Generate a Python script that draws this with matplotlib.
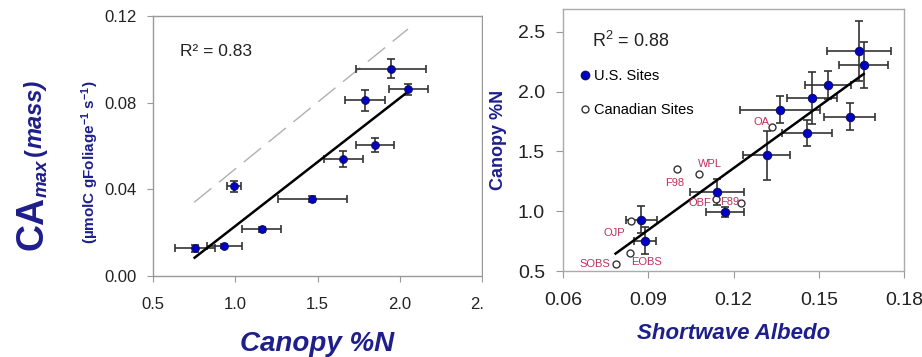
import numpy as np
import matplotlib
matplotlib.use("Agg")
import matplotlib.pyplot as plt
from matplotlib.lines import Line2D
from matplotlib.patches import Rectangle

plt.rcParams['font.family'] = ['Liberation Sans', 'DejaVu Sans']
plt.rcParams['mathtext.fontset'] = 'custom'
plt.rcParams['mathtext.rm'] = 'Liberation Sans:bold'
plt.rcParams['mathtext.it'] = 'Liberation Sans:bold:italic'
plt.rcParams['mathtext.sf'] = 'Liberation Sans'

NAVY = '#1e1e8c'
PINK = '#c0305c'
DOT = '#0000c8'
BAR = '#333333'

# --- canopy N vs CAmax (mass) ---
n_pct = [0.753, 0.933, 1.161, 0.993, 1.468, 1.658, 1.848, 1.790, 1.947, 2.052]
n_err = [0.121, 0.105, 0.120, 0.042, 0.210, 0.120, 0.115, 0.120, 0.210, 0.118]
ca_max = [0.0128, 0.0138, 0.0215, 0.0415, 0.0355, 0.0540, 0.0603, 0.0810, 0.0957, 0.0862]
ca_err = [0.0015, 0.0010, 0.0010, 0.0025, 0.0012, 0.0035, 0.0032, 0.0050, 0.0045, 0.0025]
dash_x = [0.75, 2.05]
dash_y = [0.034, 0.114]
r2_left = 0.83

# --- albedo vs canopy N ---
us_alb = [0.1642, 0.1658, 0.1533, 0.1475, 0.1363, 0.1609, 0.1459, 0.1317, 0.1143, 0.1171, 0.0875, 0.0889]
us_alb_err = [0.0114, 0.0086, 0.0082, 0.0088, 0.0140, 0.0089, 0.0088, 0.0082, 0.0095, 0.0067, 0.0055, 0.0040]
us_n = [2.338, 2.223, 2.053, 1.944, 1.849, 1.790, 1.654, 1.466, 1.162, 0.994, 0.930, 0.754]
us_n_err = [0.25, 0.195, 0.115, 0.217, 0.112, 0.112, 0.110, 0.207, 0.110, 0.040, 0.115, 0.115]

ca_sites = ['SOBS', 'EOBS', 'OJP', 'OBF', 'F89', 'WPL', 'F98', 'OA']
ca_alb = [0.0785, 0.0837, 0.0840, 0.1138, 0.1225, 0.1078, 0.1000, 0.1336]
ca_n = [0.556, 0.654, 0.919, 1.106, 1.070, 1.310, 1.352, 1.701]
r2_right = 0.88

# label offsets (points) from each Canadian site marker
lbl_off = {'SOBS': (-15, 0), 'EOBS': (11.5, -6.5), 'OJP': (-12, -9), 'OBF': (-11.3, -2.9),
           'F89': (-7.9, 0.7), 'WPL': (7.7, 7.2), 'F98': (-1.4, -10.3), 'OA': (-7.7, 3.6)}

W, H = 922, 357
fig = plt.figure(figsize=(W / 100, H / 100), dpi=100)

def box(l, t, r, b):
    return [l / W, 1 - b / H, (r - l) / W, (b - t) / H]

# left panel
ax1 = fig.add_axes(box(153, 16, 482, 276), zorder=0)
ax1.errorbar(n_pct, ca_max, xerr=n_err, yerr=ca_err, fmt='none', ecolor=BAR,
             elinewidth=1.2, capsize=3, capthick=1.2, zorder=2)
ax1.plot(n_pct, ca_max, 'o', ms=5.5, mfc=DOT, mec='#101060', mew=0.8, zorder=3)
k, b0 = np.polyfit(n_pct, ca_max, 1)
fx = np.array([min(n_pct), max(n_pct)])
ax1.plot(fx, k * fx + b0, color='black', lw=1.8, zorder=2)
dl, = ax1.plot(dash_x, dash_y, color='#b0b0b0', lw=1.0, zorder=1)
dl.set_dashes((16, 7))
ax1.text(0.666, 0.1035, f'R² = {r2_left:.2f}', fontsize=12.5, color='#222222', va='center')
ax1.set_xlim(0.5, 2.5)
ax1.set_ylim(0, 0.12)
ax1.set_xticks([0.5, 1.0, 1.5, 2.0, 2.5])
ax1.set_yticks([0, 0.04, 0.08, 0.12])
ax1.xaxis.set_major_formatter(matplotlib.ticker.FormatStrFormatter('%.1f'))
ax1.yaxis.set_major_formatter(matplotlib.ticker.FormatStrFormatter('%.2f'))
ax1.tick_params(labelsize=12, colors='#222222', length=4, width=0.8, pad=8)
ax1.tick_params(axis='x', pad=11)
ax1.tick_params(color='#999999')
for s in ax1.spines.values():
    s.set_color('#999999')
    s.set_linewidth(1.0)
ax1.set_xlabel('Canopy %N', fontsize=20, fontweight='bold', fontstyle='italic',
               color=NAVY, labelpad=14)

# y label built from pieces along a shared baseline
fig.text(42 / W, 1 - 250 / H, 'CA', rotation=90, rotation_mode='anchor', ha='left',
         va='baseline', fontsize=27, fontweight='bold', color=NAVY)
fig.text(47 / W, 1 - 197 / H, 'max', rotation=90, rotation_mode='anchor', ha='left',
         va='baseline', fontsize=13.5, fontweight='bold', fontstyle='italic', color=NAVY)
fig.text(42 / W, 1 - 156 / H, '(', rotation=90, rotation_mode='anchor', ha='left',
         va='baseline', fontsize=17, fontweight='bold', color=NAVY)
fig.text(42 / W, 1 - 148 / H, 'mass)', rotation=90, rotation_mode='anchor', ha='left',
         va='baseline', fontsize=17, fontweight='bold', fontstyle='italic', color=NAVY)
fig.text(90 / W, 1 - 162 / H, r'(µmolC gFoliage$^{-1}$ s$^{-1}$)', rotation=90,
         ha='center', va='center', fontsize=11, fontweight='bold', color=NAVY)

# the right panel sits over the end of the left one
fig.patches.append(Rectangle((483 / W, 0), 1 - 483 / W, 1, transform=fig.transFigure,
                             facecolor='white', edgecolor='none', zorder=1))

# right panel
ax2 = fig.add_axes(box(563, 9, 904, 271), zorder=2)
ax2.errorbar(us_alb, us_n, xerr=us_alb_err, yerr=us_n_err, fmt='none', ecolor=BAR,
             elinewidth=1.2, capsize=3, capthick=1.2, zorder=2)
ax2.plot(us_alb, us_n, 'o', ms=6, mfc=DOT, mec='#101060', mew=0.8, zorder=4)
ax2.plot(ca_alb, ca_n, 'o', ms=5, mfc='white', mec='#333333', mew=1.0, zorder=3)
all_x = np.array(us_alb + ca_alb)
all_y = np.array(us_n + ca_n)
k2, b2 = np.polyfit(all_x, all_y, 1)
fx2 = np.array([all_x.min(), all_x.max()])
ax2.plot(fx2, k2 * fx2 + b2, color='black', lw=1.8, zorder=3)
for name, x, y in zip(ca_sites, ca_alb, ca_n):
    ax2.annotate(name, (x, y), xytext=lbl_off[name], textcoords='offset points',
                 ha='center', va='center', fontsize=8, color=PINK)
ax2.text(0.0702, 2.42, rf'R$^{{\mathsf{{2}}}}$ = {r2_right:.2f}', fontsize=13,
         color='#222222', va='center')
hs = [Line2D([], [], ls='none', marker='o', ms=6, mfc=DOT, mec='#101060'),
      Line2D([], [], ls='none', marker='o', ms=5, mfc='white', mec='#333333')]
ax2.legend(hs, ['U.S. Sites', 'Canadian Sites'], loc='upper left',
           bbox_to_anchor=(0.009, 0.81), frameon=False, fontsize=10.5,
           handletextpad=0.0, handlelength=1.2, labelspacing=1.4, borderaxespad=0.3)
ax2.set_xlim(0.06, 0.18)
ax2.set_ylim(0.5, 2.69)
ax2.set_xticks([0.06, 0.09, 0.12, 0.15, 0.18])
ax2.set_yticks([0.5, 1.0, 1.5, 2.0, 2.5])
ax2.xaxis.set_major_formatter(matplotlib.ticker.FormatStrFormatter('%.2f'))
ax2.yaxis.set_major_formatter(matplotlib.ticker.FormatStrFormatter('%.1f'))
ax2.tick_params(labelsize=14, colors='#222222', length=5, width=0.8, pad=8)
ax2.tick_params(axis='x', pad=10)
ax2.tick_params(color='#999999')
for s in ax2.spines.values():
    s.set_color('#aaaaaa')
    s.set_linewidth(1.0)
ax2.set_xlabel('Shortwave Albedo', fontsize=16, fontweight='bold', fontstyle='italic',
               color=NAVY, labelpad=10)
ax2.set_ylabel('Canopy %N', fontsize=13, fontweight='bold', color=NAVY, labelpad=8)

fig.savefig('out.png', dpi=100)
